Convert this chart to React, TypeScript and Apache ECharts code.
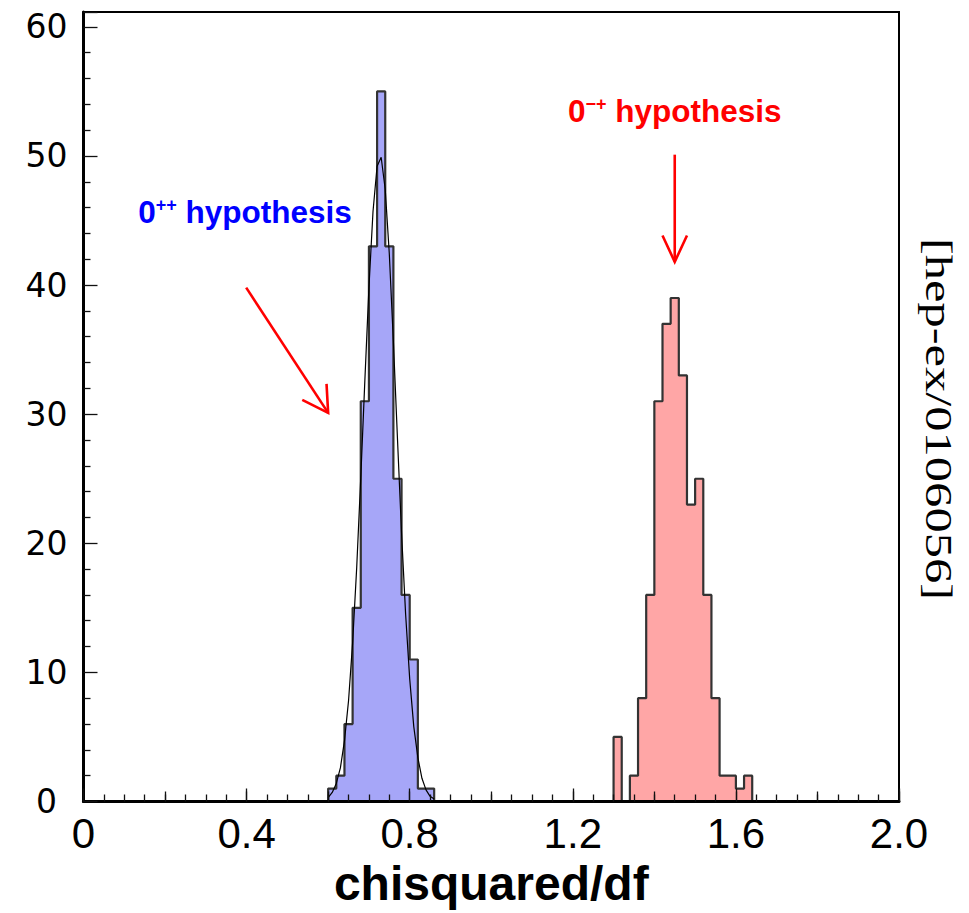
import React, { useEffect, useRef } from "react";
import * as echarts from "echarts";

// ---- data ----
const BIN_WIDTH = 0.02;
// 0++ hypothesis histogram (low bin edges and counts)
const binsPP = [0.6, 0.62, 0.64, 0.66, 0.68, 0.7, 0.72, 0.74, 0.76, 0.78, 0.8, 0.82, 0.84];
const countsPP = [1, 2, 6, 15, 31, 43, 55, 43, 25, 16, 11, 1, 1];
// 0-+ hypothesis histogram
const binsMP = [1.3, 1.32, 1.34, 1.36, 1.38, 1.4, 1.42, 1.44, 1.46, 1.48, 1.5, 1.52, 1.54, 1.56, 1.58, 1.6, 1.62];
const countsMP = [5, 0, 2, 8, 16, 31, 37, 39, 33, 23, 25, 16, 8, 2, 2, 1, 2];
// fitted curve over the 0++ histogram
const fitX = [0.6, 0.61, 0.62, 0.63, 0.64, 0.65, 0.66, 0.67, 0.68, 0.69, 0.7, 0.71, 0.72, 0.73, 0.74, 0.75, 0.76, 0.77, 0.78, 0.79, 0.8, 0.81, 0.82, 0.83, 0.84, 0.85, 0.86];
const fitY = [0.3, 0.7, 1.4, 2.6, 4.7, 7.8, 12.3, 18.1, 25.1, 32.6, 39.8, 45.7, 49.2, 49.9, 47.4, 42.4, 35.6, 28.1, 20.8, 14.5, 9.5, 5.8, 3.4, 1.8, 0.9, 0.4, 0.2];
// axes
const xTickValues = [0, 0.4, 0.8, 1.2, 1.6, 2.0];
const xTickLabels = ["0", "0.4", "0.8", "1.2", "1.6", "2.0"];
const yTickLabels = ["0", "10", "20", "30", "40", "50", "60"];
const X_TITLE = "chisquared/df";
const SIDE_TEXT = "[hep-ex/0106056]";

// ---- annotations (data coordinates) ----
const ARROW_PP = { from: [0.399, 39.8], to: [0.6, 30.1], half: 30 };
const ARROW_MP = { from: [1.45, 50.1], to: [1.45, 41.8], half: 25 };
const LABEL_PP = { at: [0.134, 46.9] };
const LABEL_MP = { at: [1.188, 54.75] };

function histLine(bins: number[], counts: number[]) {
  const pts: number[][] = [[bins[0], 0]];
  bins.forEach((b, i) => pts.push([b, counts[i]]));
  pts.push([bins[bins.length - 1] + BIN_WIDTH, 0]);
  return pts;
}

export default function App() {
  const ref = useRef<HTMLDivElement>(null);
  useEffect(() => {
    if (!ref.current) return;
    const chart = echarts.init(ref.current, undefined, { renderer: "svg" });
    const tickStyle = { color: "#111", width: 1.3 };
    chart.setOption({
      animation: false,
      backgroundColor: "#ffffff",
      grid: {
        left: 83.5,
        right: 70,
        top: 12,
        bottom: 111.5,
        show: true,
        borderColor: "#000",
        borderWidth: 2,
        backgroundColor: "transparent",
      },
      xAxis: [
        {
          type: "value",
          min: 0,
          max: 2,
          interval: 0.4,
          position: "bottom",
          z: 5,
          axisLine: { show: true, onZero: false, lineStyle: { color: "#000", width: 3 } },
          axisTick: { show: true, inside: true, length: 13, lineStyle: tickStyle },
          minorTick: { show: true, splitNumber: 8, length: 7, lineStyle: tickStyle },
          splitLine: { show: false },
          axisLabel: {
            margin: 11,
            color: "#000",
            fontFamily: "'Liberation Sans', Arial, sans-serif",
            fontSize: 42,
            formatter: (v: number) => {
              const i = xTickValues.findIndex((t) => Math.abs(t - v) < 1e-6);
              return i >= 0 ? xTickLabels[i] : "";
            },
          },
          name: X_TITLE,
          nameLocation: "middle",
          nameGap: 53,
          nameTextStyle: {
            color: "#000",
            fontFamily: "'Liberation Sans', Arial, sans-serif",
            fontWeight: "bold",
            fontSize: 48,
          },
        },
        {
          type: "value",
          min: 0,
          max: 2,
          interval: 0.2,
          position: "bottom",
          z: 5,
          axisLine: { show: false },
          axisTick: { show: true, inside: true, length: 10, lineStyle: tickStyle },
          axisLabel: { show: false },
          splitLine: { show: false },
        },
      ],
      yAxis: {
        type: "value",
        min: 0,
        max: 61.15,
        interval: 10,
        z: 5,
        axisLine: { show: true, onZero: false, lineStyle: { color: "#000", width: 3 } },
        axisTick: { show: true, inside: true, length: 14, lineStyle: tickStyle },
        minorTick: { show: true, splitNumber: 5, length: 7, lineStyle: tickStyle },
        splitLine: { show: false },
        axisLabel: {
          margin: 37,
          align: "center",
          color: "#000",
          fontFamily: "'DejaVu Sans', sans-serif",
          fontSize: 33,
          showMaxLabel: false,
          formatter: (v: number) => {
            const i = Math.round(v / 10);
            return Math.abs(v - i * 10) < 1e-6 && i < yTickLabels.length ? yTickLabels[i] : "";
          },
        },
      },
      series: [
        {
          name: "0++ hypothesis",
          type: "line",
          step: "end",
          symbol: "none",
          data: histLine(binsPP, countsPP),
          lineStyle: { color: "#333", width: 2.2 },
          areaStyle: { color: "#a6a6f8", opacity: 1 },
          z: 2,
        },
        {
          name: "0-+ hypothesis",
          type: "line",
          step: "end",
          symbol: "none",
          data: histLine(binsMP, countsMP),
          lineStyle: { color: "#333", width: 2.2 },
          areaStyle: { color: "#ffa6a6", opacity: 1 },
          z: 2,
        },
        {
          name: "fit",
          type: "line",
          symbol: "none",
          data: fitX.map((x, i) => [x, fitY[i]]),
          lineStyle: { color: "#000", width: 1.2 },
          z: 3,
        },
      ],
    });

    const px = (p: number[]) => chart.convertToPixel({ gridIndex: 0 }, p) as number[];
    const arrow = (a: { from: number[]; to: number[]; half: number }) => {
      const p0 = px(a.from);
      const p1 = px(a.to);
      const dx = p0[0] - p1[0];
      const dy = p0[1] - p1[1];
      const L = Math.hypot(dx, dy);
      const ux = dx / L;
      const uy = dy / L;
      const len = 29;
      const rot = (t: number) => [
        p1[0] + len * (ux * Math.cos(t) - uy * Math.sin(t)),
        p1[1] + len * (ux * Math.sin(t) + uy * Math.cos(t)),
      ];
      const ang = (a.half * Math.PI) / 180;
      const st = { stroke: "#ff0000", lineWidth: 2.6, fill: "none" };
      return [
        { type: "line", z: 100, shape: { x1: p0[0], y1: p0[1], x2: p1[0], y2: p1[1] }, style: st },
        { type: "polyline", z: 100, shape: { points: [rot(ang), p1, rot(-ang)] }, style: st },
      ];
    };
    const label = (pos: number[], sup: string, color: string) => {
      const p = px(pos);
      return {
        type: "text",
        z: 100,
        x: p[0],
        y: p[1],
        style: {
          text: `{b|0}{s|${sup}}{b| hypothesis}`,
          verticalAlign: "top",
          align: "left",
          rich: {
            b: { fontSize: 31.5, fontWeight: "bold", fontFamily: "'Liberation Sans', Arial, sans-serif", fill: color },
            s: { fontSize: 18, fontWeight: "bold", fontFamily: "'Liberation Sans', Arial, sans-serif", fill: color, verticalAlign: "top" },
          },
        },
      };
    };
    chart.setOption({
      graphic: [
        ...arrow(ARROW_PP),
        ...arrow(ARROW_MP),
        label(LABEL_PP.at, "++", "#0000ff"),
        label(LABEL_MP.at, "\u2212+", "#ff0000"),
        {
          type: "text",
          z: 100,
          x: 939,
          y: 419,
          rotation: -Math.PI / 2,
          scaleX: 1.33,
          style: {
            text: SIDE_TEXT,
            fontFamily: "'Liberation Serif', 'Times New Roman', serif",
            fontSize: 38,
            fill: "#000",
            align: "center",
            verticalAlign: "middle",
          },
        },
      ],
    });
    return () => chart.dispose();
  }, []);
  return (
    <div
      ref={ref}
      style={{ position: "absolute", left: 0, top: 0, width: 969, height: 913 }}
    />
  );
}
